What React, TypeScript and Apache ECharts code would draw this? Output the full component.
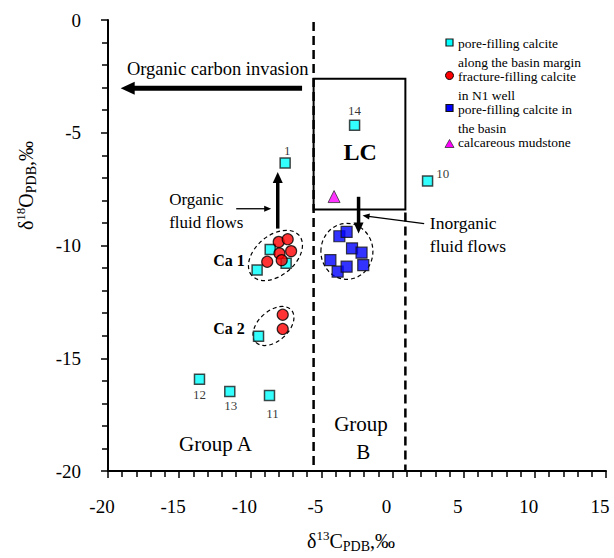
import React, { useEffect, useRef } from "react";
import * as echarts from "echarts";

// pore-filling calcite along the basin margin (cyan squares)
const marginX = [-7.55, -2.67, 2.46, -8.6, -9.52, -7.48, -9.42, -13.57, -11.44, -8.65];
const marginY = [-6.34, -4.67, -7.14, -10.18, -11.09, -10.79, -14.02, -15.93, -16.48, -16.65];
const marginLabels = ["1", "14", "10", "", "", "", "", "12", "13", "11"];

// fracture-filling calcite in N1 well (red circles)
const fractureX = [-8.0, -7.37, -7.13, -7.95, -7.79, -8.81, -7.72, -7.72];
const fractureY = [-9.84, -9.72, -10.25, -10.35, -10.65, -10.72, -13.07, -13.7];

// pore-filling calcite in the basin (blue squares)
const basinX = [-3.74, -3.23, -2.85, -2.18, -4.37, -3.86, -3.23, -2.06];
const basinY = [-9.59, -9.4, -10.13, -10.32, -10.65, -11.16, -10.94, -10.87];

// calcareous mudstone (magenta triangle)
const mudX = [-4.11];
const mudY = [-7.83];

const xTicks = { min: -20, max: 15, interval: 5 };
const yTicks = { min: -20, max: 0, interval: 5 };

// LC box and group boundaries (data coordinates)
const lcBox = { x1: -5.55, x2: 0.9, y1: -2.6, y2: -8.4 };
const boundaryA = -5.55;
const boundaryB = 0.9;

const FONT = "'Liberation Serif', 'Times New Roman', serif";

const labelCfg: Record<string, any> = {
  "1": { position: "top", distance: 0, offset: [2, 0] },
  "14": { position: "top", distance: 3, offset: [0, 0] },
  "10": { position: "right", distance: 3, offset: [0, -8] },
  "12": { position: "bottom", distance: 3, offset: [0, 0] },
  "13": { position: "bottom", distance: 2, offset: [1, 0] },
  "11": { position: "bottom", distance: 6, offset: [3, 0] },
};

export default function App() {
  const ref = useRef<HTMLDivElement>(null);

  useEffect(() => {
    const chart = echarts.init(ref.current!, null, { renderer: "svg" });

    const marginData = marginX.map((x, i) => {
      const name = marginLabels[i];
      const item: any = { value: [x, marginY[i]], name };
      if (name) {
        item.label = {
          show: true,
          formatter: name,
          fontSize: 13,
          fontFamily: FONT,
          color: "#000",
          textBorderWidth: 0,
          ...labelCfg[name],
        };
      }
      return item;
    });

    const zip = (xs: number[], ys: number[]) => xs.map((x, i) => [x, ys[i]]);

    const rich = {
      a: { fontSize: 20, fontFamily: FONT, color: "#000", lineHeight: 24 },
      sup: { fontSize: 13, fontFamily: FONT, color: "#000", lineHeight: 13, verticalAlign: "top" },
      sub: { fontSize: 14, fontFamily: FONT, color: "#000", lineHeight: 14, verticalAlign: "bottom" },
    };

    chart.setOption({
      animation: false,
      backgroundColor: "#fff",
      grid: { left: 108, right: 8, top: 20, bottom: 84, containLabel: false },
      xAxis: {
        type: "value",
        ...xTicks,
        name: "{a|δ}{sup|13}{a|C}{sub|PDB}{a|,‰}",
        nameLocation: "middle",
        nameGap: 58,
        nameTextStyle: { rich, padding: [0, 12, 0, 0] },
        axisLine: { show: true, onZero: false, lineStyle: { color: "#000", width: 2 } },
        axisTick: { show: true, length: 7, lineStyle: { color: "#000", width: 1.5 } },
        minorTick: { show: true, splitNumber: 5, length: 6, lineStyle: { color: "#000", width: 1.5 } },
        axisLabel: { fontSize: 19, fontFamily: FONT, color: "#000", margin: 26, padding: [0, 12, 0, 0] },
        splitLine: { show: false },
      },
      yAxis: {
        type: "value",
        ...yTicks,
        name: "{a|δ}{sup|18}{a|O}{sub|PDB}{a|,‰}",
        nameLocation: "middle",
        nameRotate: 90,
        nameGap: 70,
        nameTextStyle: { rich, padding: [0, 0, 0, 120] },
        axisLine: { show: true, onZero: false, lineStyle: { color: "#000", width: 2 } },
        axisTick: { show: true, length: 7, lineStyle: { color: "#000", width: 1.5 } },
        minorTick: { show: true, splitNumber: 5, length: 6, lineStyle: { color: "#000", width: 1.5 } },
        axisLabel: { fontSize: 19, fontFamily: FONT, color: "#000", margin: 27 },
        splitLine: { show: false },
      },
      series: [
        {
          name: "pore-filling calcite along the basin margin",
          type: "scatter",
          symbol: "rect",
          symbolSize: 10,
          itemStyle: { color: "#00ffff", borderColor: "#1a1a1a", borderWidth: 1.5 },
          label: { color: "#000", textBorderWidth: 0 },
          data: marginData,
          z: 3,
        },
        {
          name: "fracture-filling calcite in N1 well",
          type: "scatter",
          symbol: "circle",
          symbolSize: 11,
          itemStyle: { color: "#ff0000", borderColor: "#000", borderWidth: 1.2 },
          data: zip(fractureX, fractureY),
          z: 4,
        },
        {
          name: "pore-filling calcite in the basin",
          type: "scatter",
          symbol: "rect",
          symbolSize: 11,
          itemStyle: { color: "#0000ff", borderColor: "#111", borderWidth: 1.2 },
          data: zip(basinX, basinY),
          z: 3,
        },
        {
          name: "calcareous mudstone",
          type: "scatter",
          symbol: "triangle",
          symbolSize: 12,
          itemStyle: { color: "#ff00ff", borderColor: "#333", borderWidth: 1 },
          data: zip(mudX, mudY),
          z: 3,
        },
      ],
    });

    const px = (x: number, y: number) => chart.convertToPixel({ gridIndex: 0 }, [x, y]) as number[];

    const g: any[] = [];
    const dashed = { stroke: "#000", lineWidth: 2.5, lineDash: [9, 5] };

    // group boundaries
    {
      const a1 = px(boundaryA, 0);
      const a2 = px(boundaryA, -20);
      g.push({ type: "line", shape: { x1: a1[0], y1: a1[1] + 2, x2: a2[0], y2: a2[1] }, style: dashed, z: 1 });
      const b1 = px(boundaryB, lcBox.y2);
      const b2 = px(boundaryB, -20);
      g.push({ type: "line", shape: { x1: b1[0], y1: b1[1] + 3, x2: b2[0], y2: b2[1] }, style: dashed, z: 1 });
    }
    // LC box
    {
      const p1 = px(lcBox.x1, lcBox.y1);
      const p2 = px(lcBox.x2, lcBox.y2);
      g.push({
        type: "rect",
        shape: { x: p1[0], y: p1[1], width: p2[0] - p1[0], height: p2[1] - p1[1] },
        style: { fill: "none", stroke: "#000", lineWidth: 2 },
        z: 2,
      });
    }

    const arrow = (from: number[], to: number[], width: number, headLen: number, headW: number) => {
      const p1 = px(from[0], from[1]);
      const p2 = px(to[0], to[1]);
      const dx = p2[0] - p1[0];
      const dy = p2[1] - p1[1];
      const len = Math.sqrt(dx * dx + dy * dy);
      const ux = dx / len;
      const uy = dy / len;
      const bx = p2[0] - ux * headLen;
      const by = p2[1] - uy * headLen;
      g.push({
        type: "line",
        shape: { x1: p1[0], y1: p1[1], x2: bx + ux, y2: by + uy },
        style: { stroke: "#000", lineWidth: width },
        z: 5,
      });
      g.push({
        type: "polygon",
        shape: {
          points: [
            [p2[0], p2[1]],
            [bx - uy * headW / 2, by + ux * headW / 2],
            [bx + uy * headW / 2, by - ux * headW / 2],
          ],
        },
        style: { fill: "#000" },
        z: 5,
      });
    };

    arrow([-6.36, -3.03], [-19.11, -3.03], 5, 14, 13);
    arrow([-8.07, -9.25], [-8.07, -6.74], 3.5, 11, 10);
    arrow([-2.39, -7.84], [-2.39, -9.47], 3.5, 11, 10);
    arrow([-10.99, -8.37], [-8.53, -8.37], 1.3, 7, 6);
    arrow([2.22, -9.03], [-2.11, -8.67], 1.3, 7, 6);

    const ellipse = (cx: number, cy: number, rx: number, ry: number, rotDeg: number) => {
      const c = px(cx, cy);
      g.push({
        type: "ellipse",
        x: c[0],
        y: c[1],
        rotation: (rotDeg * Math.PI) / 180,
        shape: { cx: 0, cy: 0, rx, ry },
        style: { fill: "none", stroke: "#000", lineWidth: 1.2, lineDash: [4, 3] },
        z: 2,
      });
    };
    ellipse(-8.23, -10.44, 31, 20, 40);
    ellipse(-8.37, -13.57, 24, 15, 42);
    ellipse(-3.21, -10.26, 26, 28, 0);

    const text = (
      t: string,
      x: number,
      y: number,
      size: number,
      align: string = "center",
      weight: string = "normal"
    ) => {
      const p = px(x, y);
      g.push({
        type: "text",
        x: p[0],
        y: p[1],
        style: {
          text: t,
          fontSize: size,
          fontFamily: FONT,
          fontWeight: weight,
          fill: "#000",
          align,
          verticalAlign: "middle",
        },
        z: 6,
      });
    };

    text("Organic carbon invasion", -12.29, -2.16, 18.5);
    text("Organic", -15.7, -7.97, 17, "left");
    text("fluid flows", -15.7, -8.99, 17, "left");
    text("Inorganic", 2.62, -9.0, 17.5, "left");
    text("fluid flows", 2.62, -10.01, 17.5, "left");
    text("LC", -2.27, -5.86, 24, "center", "bold");
    text("Ca 1", -10.39, -10.66, 16, "right", "bold");
    text("Ca 2", -10.39, -13.7, 16, "right", "bold");
    text("Group A", -12.44, -18.81, 21);
    text("Group", -2.22, -17.92, 21);
    text("B", -2.06, -19.16, 21);

    // legend (pixel layout)
    const lx = 449.5;
    const tx = 458;
    g.push({
      type: "rect",
      shape: { x: lx - 3.5, y: 39, width: 7, height: 7 },
      style: { fill: "#00ffff", stroke: "#1a1a1a", lineWidth: 1.2 },
      z: 6,
    });
    g.push({
      type: "circle",
      shape: { cx: lx, cy: 75.5, r: 4 },
      style: { fill: "#ff0000", stroke: "#000", lineWidth: 1 },
      z: 6,
    });
    g.push({
      type: "rect",
      shape: { x: lx - 3.5, y: 104.5, width: 7, height: 7 },
      style: { fill: "#0000ff", stroke: "#111", lineWidth: 1.2 },
      z: 6,
    });
    g.push({
      type: "polygon",
      shape: { points: [[lx, 139.5], [lx - 4.5, 147.5], [lx + 4.5, 147.5]] },
      style: { fill: "#ff00ff", stroke: "#333", lineWidth: 0.8 },
      z: 6,
    });
    const legendLines: [string, number][] = [
      ["pore-filling calcite", 43.3],
      ["along the basin margin", 62.3],
      ["fracture-filling calcite", 76.7],
      ["in N1 well", 95],
      ["pore-filling calcite in", 109.3],
      ["the basin", 128.3],
      ["calcareous mudstone", 142.7],
    ];
    legendLines.forEach(([t, y]) => {
      g.push({
        type: "text",
        x: tx,
        y,
        style: { text: t, fontSize: 13.5, fontFamily: FONT, fill: "#000", align: "left", verticalAlign: "middle" },
        z: 6,
      });
    });

    chart.setOption({ graphic: g });

    return () => chart.dispose();
  }, []);

  return <div ref={ref} style={{ position: "fixed", left: 0, top: 0, width: 614, height: 558 }} />;
}
